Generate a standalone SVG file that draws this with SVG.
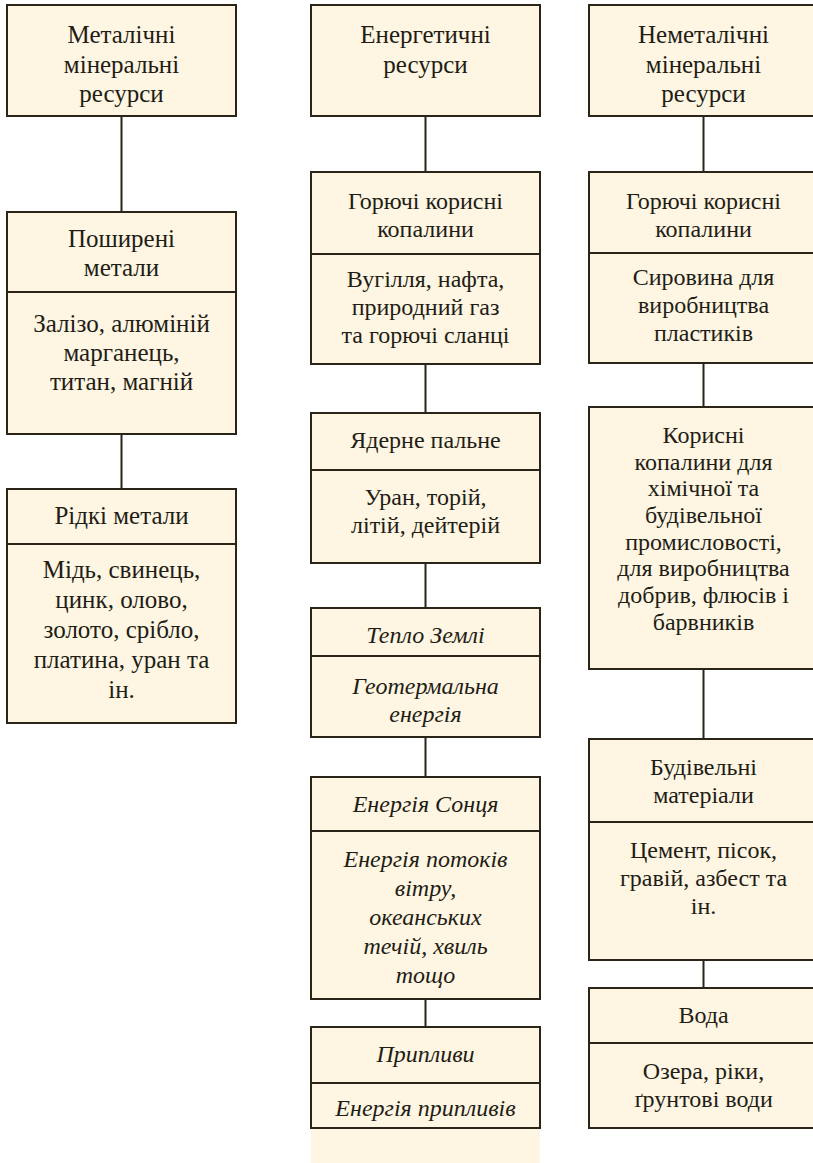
<svg xmlns="http://www.w3.org/2000/svg" width="813" height="1163" viewBox="0 0 813 1163">
  <!-- connectors between stacked boxes -->
  <g id="connectors" stroke="#2b2419" stroke-width="2" fill="none">
    <line x1="121.5" y1="116" x2="121.5" y2="212"/>
    <line x1="121.5" y1="434" x2="121.5" y2="489"/>

    <line x1="425.5" y1="116" x2="425.5" y2="172"/>
    <line x1="425.5" y1="364" x2="425.5" y2="413"/>
    <line x1="425.5" y1="563" x2="425.5" y2="608"/>
    <line x1="425.5" y1="737" x2="425.5" y2="777"/>
    <line x1="425.5" y1="999" x2="425.5" y2="1027"/>

    <line x1="703.5" y1="116" x2="703.5" y2="172"/>
    <line x1="703.5" y1="363" x2="703.5" y2="407"/>
    <line x1="703.5" y1="669" x2="703.5" y2="739"/>
    <line x1="703.5" y1="960" x2="703.5" y2="988"/>
  </g>

  <!-- left column: metallic resources -->
  <g id="metal-root">
    <rect x="7" y="5" width="229" height="111" fill="#fef5e3" stroke="#2b2419" stroke-width="2"/>
    <text font-family="Liberation Serif" font-size="25" fill="#221d14" text-anchor="middle" x="121.5" y="43">Металічні</text>
    <text font-family="Liberation Serif" font-size="25" fill="#221d14" text-anchor="middle" x="121.5" y="73">мінеральні</text>
    <text font-family="Liberation Serif" font-size="25" fill="#221d14" text-anchor="middle" x="121.5" y="102">ресурси</text>
  </g>
  <g id="metal-common">
    <rect x="7" y="212" width="229" height="222" fill="#fef5e3" stroke="#2b2419" stroke-width="2"/>
    <line x1="7" y1="292" x2="236" y2="292" stroke="#2b2419" stroke-width="2"/>
    <text font-family="Liberation Serif" font-size="25" fill="#221d14" text-anchor="middle" x="121.5" y="247">Поширені</text>
    <text font-family="Liberation Serif" font-size="25" fill="#221d14" text-anchor="middle" x="121.5" y="276">метали</text>
    <text font-family="Liberation Serif" font-size="25" fill="#221d14" text-anchor="middle" x="121.5" y="332">Залізо, алюміній</text>
    <text font-family="Liberation Serif" font-size="25" fill="#221d14" text-anchor="middle" x="121.5" y="361">марганець,</text>
    <text font-family="Liberation Serif" font-size="25" fill="#221d14" text-anchor="middle" x="121.5" y="390">титан, магній</text>
  </g>
  <g id="metal-rare">
    <rect x="7" y="489" width="229" height="234" fill="#fef5e3" stroke="#2b2419" stroke-width="2"/>
    <line x1="7" y1="544" x2="236" y2="544" stroke="#2b2419" stroke-width="2"/>
    <text font-family="Liberation Serif" font-size="25" fill="#221d14" text-anchor="middle" x="121.5" y="524">Рідкі метали</text>
    <text font-family="Liberation Serif" font-size="25" fill="#221d14" text-anchor="middle" x="121.5" y="578">Мідь, свинець,</text>
    <text font-family="Liberation Serif" font-size="25" fill="#221d14" text-anchor="middle" x="121.5" y="608">цинк, олово,</text>
    <text font-family="Liberation Serif" font-size="25" fill="#221d14" text-anchor="middle" x="121.5" y="638">золото, срібло,</text>
    <text font-family="Liberation Serif" font-size="25" fill="#221d14" text-anchor="middle" x="121.5" y="668">платина, уран та</text>
    <text font-family="Liberation Serif" font-size="25" fill="#221d14" text-anchor="middle" x="121.5" y="698">ін.</text>
  </g>

  <!-- middle column: energy resources -->
  <g id="energy-root">
    <rect x="311" y="5" width="229" height="111" fill="#fef5e3" stroke="#2b2419" stroke-width="2"/>
    <text font-family="Liberation Serif" font-size="25" fill="#221d14" text-anchor="middle" x="425.5" y="43">Енергетичні</text>
    <text font-family="Liberation Serif" font-size="25" fill="#221d14" text-anchor="middle" x="425.5" y="73">ресурси</text>
  </g>
  <g id="energy-fossil">
    <rect x="311" y="172" width="229" height="192" fill="#fef5e3" stroke="#2b2419" stroke-width="2"/>
    <line x1="311" y1="254" x2="540" y2="254" stroke="#2b2419" stroke-width="2"/>
    <text font-family="Liberation Serif" font-size="24" fill="#221d14" text-anchor="middle" x="425.5" y="209">Горючі корисні</text>
    <text font-family="Liberation Serif" font-size="24" fill="#221d14" text-anchor="middle" x="425.5" y="237">копалини</text>
    <text font-family="Liberation Serif" font-size="24" fill="#221d14" text-anchor="middle" x="425.5" y="287">Вугілля, нафта,</text>
    <text font-family="Liberation Serif" font-size="24" fill="#221d14" text-anchor="middle" x="425.5" y="315">природний газ</text>
    <text font-family="Liberation Serif" font-size="24" fill="#221d14" text-anchor="middle" x="425.5" y="343">та горючі сланці</text>
  </g>
  <g id="energy-nuclear">
    <rect x="311" y="413" width="229" height="150" fill="#fef5e3" stroke="#2b2419" stroke-width="2"/>
    <line x1="311" y1="470" x2="540" y2="470" stroke="#2b2419" stroke-width="2"/>
    <text font-family="Liberation Serif" font-size="24" fill="#221d14" text-anchor="middle" x="425.5" y="448">Ядерне пальне</text>
    <text font-family="Liberation Serif" font-size="24" fill="#221d14" text-anchor="middle" x="425.5" y="505">Уран, торій,</text>
    <text font-family="Liberation Serif" font-size="24" fill="#221d14" text-anchor="middle" x="425.5" y="533">літій, дейтерій</text>
  </g>
  <g id="energy-geothermal">
    <rect x="311" y="608" width="229" height="129" fill="#fef5e3" stroke="#2b2419" stroke-width="2"/>
    <line x1="311" y1="656" x2="540" y2="656" stroke="#2b2419" stroke-width="2"/>
    <text font-family="Liberation Serif" font-style="italic" font-size="24" fill="#221d14" text-anchor="middle" x="425.5" y="643">Тепло Землі</text>
    <text font-family="Liberation Serif" font-style="italic" font-size="24" fill="#221d14" text-anchor="middle" x="425.5" y="694">Геотермальна</text>
    <text font-family="Liberation Serif" font-style="italic" font-size="24" fill="#221d14" text-anchor="middle" x="425.5" y="722">енергія</text>
  </g>
  <g id="energy-solar">
    <rect x="311" y="777" width="229" height="222" fill="#fef5e3" stroke="#2b2419" stroke-width="2"/>
    <line x1="311" y1="831" x2="540" y2="831" stroke="#2b2419" stroke-width="2"/>
    <text font-family="Liberation Serif" font-style="italic" font-size="24" fill="#221d14" text-anchor="middle" x="425.5" y="812">Енергія Сонця</text>
    <text font-family="Liberation Serif" font-style="italic" font-size="24" fill="#221d14" text-anchor="middle" x="425.5" y="867">Енергія потоків</text>
    <text font-family="Liberation Serif" font-style="italic" font-size="24" fill="#221d14" text-anchor="middle" x="425.5" y="896">вітру,</text>
    <text font-family="Liberation Serif" font-style="italic" font-size="24" fill="#221d14" text-anchor="middle" x="425.5" y="925">океанських</text>
    <text font-family="Liberation Serif" font-style="italic" font-size="24" fill="#221d14" text-anchor="middle" x="425.5" y="954">течій, хвиль</text>
    <text font-family="Liberation Serif" font-style="italic" font-size="24" fill="#221d14" text-anchor="middle" x="425.5" y="983">тощо</text>
  </g>
  <g id="energy-tidal">
    <rect x="311" y="1128" width="229" height="35" fill="#fef5e3"/>
    <rect x="311" y="1027" width="229" height="101" fill="#fef5e3" stroke="#2b2419" stroke-width="2"/>
    <line x1="311" y1="1083" x2="540" y2="1083" stroke="#2b2419" stroke-width="2"/>
    <text font-family="Liberation Serif" font-style="italic" font-size="24" fill="#221d14" text-anchor="middle" x="425.5" y="1062">Припливи</text>
    <text font-family="Liberation Serif" font-style="italic" font-size="24" fill="#221d14" text-anchor="middle" x="425.5" y="1116">Енергія припливів</text>
  </g>

  <!-- right column: non-metallic resources -->
  <g id="nonmetal-root">
    <rect x="589" y="5" width="229" height="111" fill="#fef5e3" stroke="#2b2419" stroke-width="2"/>
    <text font-family="Liberation Serif" font-size="25" fill="#221d14" text-anchor="middle" x="703.5" y="43">Неметалічні</text>
    <text font-family="Liberation Serif" font-size="25" fill="#221d14" text-anchor="middle" x="703.5" y="73">мінеральні</text>
    <text font-family="Liberation Serif" font-size="25" fill="#221d14" text-anchor="middle" x="703.5" y="102">ресурси</text>
  </g>
  <g id="nonmetal-fossil">
    <rect x="589" y="172" width="229" height="191" fill="#fef5e3" stroke="#2b2419" stroke-width="2"/>
    <line x1="589" y1="253" x2="818" y2="253" stroke="#2b2419" stroke-width="2"/>
    <text font-family="Liberation Serif" font-size="24" fill="#221d14" text-anchor="middle" x="703.5" y="209">Горючі корисні</text>
    <text font-family="Liberation Serif" font-size="24" fill="#221d14" text-anchor="middle" x="703.5" y="237">копалини</text>
    <text font-family="Liberation Serif" font-size="24" fill="#221d14" text-anchor="middle" x="703.5" y="285">Сировина для</text>
    <text font-family="Liberation Serif" font-size="24" fill="#221d14" text-anchor="middle" x="703.5" y="313">виробництва</text>
    <text font-family="Liberation Serif" font-size="24" fill="#221d14" text-anchor="middle" x="703.5" y="341">пластиків</text>
  </g>
  <g id="nonmetal-chemical">
    <rect x="589" y="407" width="229" height="262" fill="#fef5e3" stroke="#2b2419" stroke-width="2"/>
    <text font-family="Liberation Serif" font-size="24" fill="#221d14" text-anchor="middle" x="703.5" y="443">Корисні</text>
    <text font-family="Liberation Serif" font-size="24" fill="#221d14" text-anchor="middle" x="703.5" y="470">копалини для</text>
    <text font-family="Liberation Serif" font-size="24" fill="#221d14" text-anchor="middle" x="703.5" y="496">хімічної та</text>
    <text font-family="Liberation Serif" font-size="24" fill="#221d14" text-anchor="middle" x="703.5" y="523">будівельної</text>
    <text font-family="Liberation Serif" font-size="24" fill="#221d14" text-anchor="middle" x="703.5" y="550">промисловості,</text>
    <text font-family="Liberation Serif" font-size="24" fill="#221d14" text-anchor="middle" x="703.5" y="576">для виробництва</text>
    <text font-family="Liberation Serif" font-size="24" fill="#221d14" text-anchor="middle" x="703.5" y="603">добрив, флюсів і</text>
    <text font-family="Liberation Serif" font-size="24" fill="#221d14" text-anchor="middle" x="703.5" y="630">барвників</text>
  </g>
  <g id="nonmetal-building">
    <rect x="589" y="739" width="229" height="221" fill="#fef5e3" stroke="#2b2419" stroke-width="2"/>
    <line x1="589" y1="822" x2="818" y2="822" stroke="#2b2419" stroke-width="2"/>
    <text font-family="Liberation Serif" font-size="24" fill="#221d14" text-anchor="middle" x="703.5" y="775">Будівельні</text>
    <text font-family="Liberation Serif" font-size="24" fill="#221d14" text-anchor="middle" x="703.5" y="803">матеріали</text>
    <text font-family="Liberation Serif" font-size="24" fill="#221d14" text-anchor="middle" x="703.5" y="858">Цемент, пісок,</text>
    <text font-family="Liberation Serif" font-size="24" fill="#221d14" text-anchor="middle" x="703.5" y="886">гравій, азбест та</text>
    <text font-family="Liberation Serif" font-size="24" fill="#221d14" text-anchor="middle" x="703.5" y="914">ін.</text>
  </g>
  <g id="nonmetal-water">
    <rect x="589" y="988" width="229" height="140" fill="#fef5e3" stroke="#2b2419" stroke-width="2"/>
    <line x1="589" y1="1043" x2="818" y2="1043" stroke="#2b2419" stroke-width="2"/>
    <text font-family="Liberation Serif" font-size="24" fill="#221d14" text-anchor="middle" x="703.5" y="1023">Вода</text>
    <text font-family="Liberation Serif" font-size="24" fill="#221d14" text-anchor="middle" x="703.5" y="1079">Озера, ріки,</text>
    <text font-family="Liberation Serif" font-size="24" fill="#221d14" text-anchor="middle" x="703.5" y="1107">ґрунтові води</text>
  </g>
</svg>
